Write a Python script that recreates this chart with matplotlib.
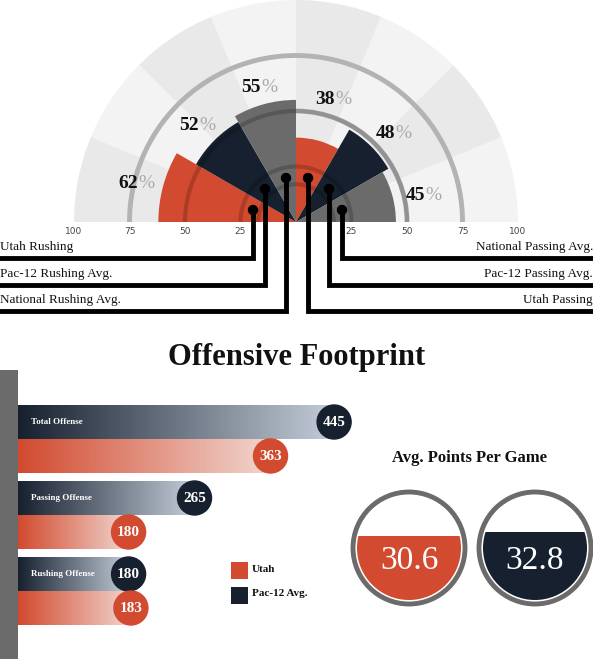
import numpy as np
import matplotlib
matplotlib.use("Agg")
import matplotlib.pyplot as plt
from matplotlib.patches import Wedge, Arc, Circle, Rectangle

# ---------------- data ----------------
rush_labels = ["Utah Rushing", "Pac-12 Rushing Avg.", "National Rushing Avg."]
rush_values = [62, 52, 55]
pass_labels = ["Utah Passing", "Pac-12 Passing Avg.", "National Passing Avg."]
pass_values = [38, 48, 45]
scale_ticks = [100, 75, 50, 25]

bar_categories = ["Total Offense", "Passing Offense", "Rushing Offense"]
pac12_yards = [445, 265, 180]
utah_yards = [363, 180, 183]

ppg_labels = ["Utah", "Pac-12 Avg."]
ppg_values = [30.6, 32.8]

RED = "#d24a2f"
NAVY = "#16202f"
GRAY = "#6b6b6b"
SERIF = ["Liberation Serif", "DejaVu Serif"]

fig = plt.figure(figsize=(5.93, 6.59), dpi=100)
ax = fig.add_axes([0, 0, 1, 1])
ax.set_xlim(0, 593)
ax.set_ylim(659, 0)
ax.axis("off")

# ---------------- half-radial chart ----------------
CX, CY = 296, 222
PU = 2.22  # px per percentage unit

def vw(r, a, b, **kw):  # visual angles a<b (deg, ccw)
    return Wedge((CX, CY), r, -b, -a, **kw)

def varc(r, a, b, **kw):
    return Arc((CX, CY), 2 * r, 2 * r, theta1=-b, theta2=-a, **kw)

shades = ["#f3f3f3", "#e9e9e9"]
for i in range(8):
    ax.add_patch(vw(100 * PU, i * 22.5, (i + 1) * 22.5, color=shades[i % 2], lw=0, zorder=1))

for v in (75, 50):
    ax.add_patch(varc(v * PU, 0, 180, color="#b3b3b3", lw=3.5, zorder=2))

wcols = [RED, NAVY, GRAY]
for i, v in enumerate(rush_values):
    ax.add_patch(vw(v * PU, 180 - 30 * (i + 1), 180 - 30 * i, color=wcols[i], lw=0, zorder=3))
for i, v in enumerate(pass_values):
    ax.add_patch(vw(v * PU, 90 - 30 * (i + 1), 90 - 30 * i, color=wcols[i], lw=0, zorder=3))
for v in (50, 25, 17):
    ax.add_patch(varc(v * PU, 0, 180, color="black", alpha=0.18, lw=3, zorder=4))

for i, t in enumerate(scale_ticks):
    for sgn in (-1, 1):
        ax.text(CX + sgn * t * PU, 231, str(t), ha="center", va="center",
                fontsize=6.5, color="#444", zorder=5)

pct_pos = [(138, 184), (199, 125), (261, 88)]
for (x, y), v in zip(pct_pos, rush_values):
    ax.text(x, y, f"{v}", ha="right", va="center", fontsize=14, fontweight="bold",
            family=SERIF, color="#111", zorder=6)
    ax.text(x, y, "%", ha="left", va="center", fontsize=14, family=SERIF, color="#aaa", zorder=6)
pct_pos_r = [(335, 100), (395, 134), (425, 196)]
for (x, y), v in zip(pct_pos_r, pass_values):
    ax.text(x, y, f"{v}", ha="right", va="center", fontsize=14, fontweight="bold",
            family=SERIF, color="#111", zorder=6)
    ax.text(x, y, "%", ha="left", va="center", fontsize=14, family=SERIF, color="#aaa", zorder=6)

# leader lines
dots_left = [(253, 210), (265, 189), (286, 178)]
dots_right = [(308, 178), (329, 189), (342, 210)]
line_y = [258, 285, 311]
for (x, y), ly, lab in zip(dots_left, line_y, rush_labels):
    ax.plot([x, x, 0], [y, ly, ly], color="black", lw=3.5, solid_joinstyle="miter", zorder=7)
    ax.add_patch(Circle((x, y), 4.5, color="black", zorder=8))
    ax.text(0, ly - 11, lab, ha="left", va="center", fontsize=9.5, family=SERIF, color="#111")
for (x, y), ly, lab in zip(dots_right[::-1], line_y, pass_labels[::-1]):
    ax.plot([x, x, 593], [y, ly, ly], color="black", lw=3.5, solid_joinstyle="miter", zorder=7)
    ax.add_patch(Circle((x, y), 4.5, color="black", zorder=8))
    ax.text(593, ly - 11, lab, ha="right", va="center", fontsize=9.5, family=SERIF, color="#111")

# ---------------- title ----------------
ax.text(297, 357, "Offensive Footprint", ha="center", va="center", fontsize=22,
        fontweight="bold", family=SERIF, color="#111")

# ---------------- bars ----------------
ax.add_patch(Rectangle((0, 370), 18, 289, color=GRAY, lw=0))
X0, S = -11, 0.7755
BX = 18
rows_top = [405, 481, 557]
BH = 34

def grad(x0, x1, y0, y1, c0, c1):
    c0 = np.array(matplotlib.colors.to_rgb(c0))
    c1 = np.array(matplotlib.colors.to_rgb(c1))
    t = np.linspace(0, 1, 256)[None, :, None]
    img = c0 + (c1 - c0) * t
    ax.imshow(img, extent=(x0, x1, y1, y0), aspect="auto", zorder=2, interpolation="bilinear")

for cat, pv, uv, top in zip(bar_categories, pac12_yards, utah_yards, rows_top):
    px = X0 + S * pv
    ux = X0 + S * uv
    grad(BX, px, top, top + BH, NAVY, "#c3ccd8")
    grad(BX, ux, top + BH, top + 2 * BH, RED, "#f1d6cf")
    ax.add_patch(Circle((px, top + BH / 2), 17, color=NAVY, zorder=4))
    ax.add_patch(Circle((ux, top + 1.5 * BH), 17, color=RED, zorder=4))
    ax.text(px, top + BH / 2, str(pv), ha="center", va="center", color="white",
            fontsize=11, fontweight="bold", family=SERIF, zorder=5)
    ax.text(ux, top + 1.5 * BH, str(uv), ha="center", va="center", color="white",
            fontsize=11, fontweight="bold", family=SERIF, zorder=5)
    ax.text(31, top + BH / 2, cat, ha="left", va="center", color="white",
            fontsize=6.5, fontweight="bold", family=SERIF, zorder=5)
ax.set_xlim(0, 593)
ax.set_ylim(659, 0)

# legend
for (y, c, lab) in [(562, RED, "Utah"), (587, NAVY, "Pac-12 Avg.")]:
    ax.add_patch(Rectangle((231, y), 17, 17, color=c, lw=0))
    ax.text(252, y + 7, lab, ha="left", va="center", fontsize=8, fontweight="bold",
            family=SERIF, color="#111")

# ---------------- points per game ----------------
ax.text(470, 458, "Avg. Points Per Game", ha="center", va="center", fontsize=12,
        fontweight="bold", family=SERIF, color="#111")
centers = [(409, 548), (535, 548)]
fills = [RED, NAVY]
R_in = 52
for (cx, cy), v, c in zip(centers, ppg_values, fills):
    ax.add_patch(Circle((cx, cy), 56, facecolor="white", edgecolor=GRAY, lw=3.5, zorder=3))
    clip = Circle((cx, cy), R_in, transform=ax.transData)
    h = 2 * R_in * v / 50
    r = Rectangle((cx - R_in, cy + R_in - h), 2 * R_in, h, color=c, lw=0, zorder=4)
    ax.add_patch(r)
    r.set_clip_path(clip)
    ax.text(cx, cy + 13, f"{v}", ha="center", va="center", color="white", fontsize=24,
            family=SERIF, zorder=5)

fig.savefig("out.png", dpi=100)
